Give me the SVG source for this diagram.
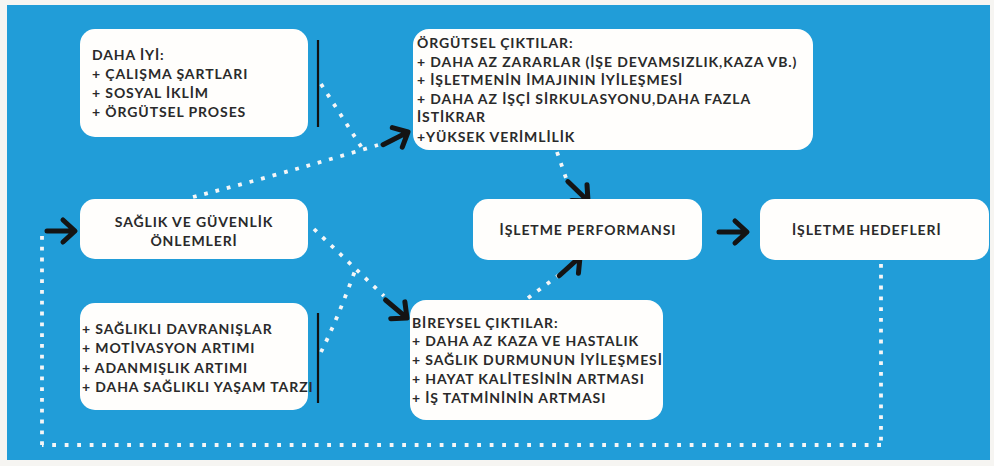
<svg xmlns="http://www.w3.org/2000/svg" xmlns:xlink="http://www.w3.org/1999/xlink" width="994" height="466" viewBox="0 0 994 466">
  <style>
    .box { fill: #fffefc; }
    .txt { font-family: Lato, "Open Sans", "DejaVu Sans", sans-serif; font-size: 14px; font-weight: 700; letter-spacing: 0.9px; fill: #2a2a2a; }
    .mid { text-anchor: middle; }
    .dots { fill: none; stroke: #f4f6f7; stroke-width: 3.8; stroke-linecap: butt; }
    .dh { stroke-dasharray: 3.8 8.7; }
    .dv { stroke-dasharray: 3.8 7; }
    .dd { stroke-dasharray: 3.8 8; }
    .bar { stroke: #111; stroke-width: 2.2; }
    .arw { fill: none; stroke: #141414; stroke-width: 5; stroke-linecap: round; stroke-linejoin: round; }
  </style>
  <defs>
    <!-- hand-drawn style arrow, tip at the origin, pointing along +x -->
    <path id="arrow" d="M-28,0 H-1 M-12,-11 L0,0 L-12,11"/>
  </defs>

  <!-- page and blue panel -->
  <rect x="0" y="0" width="994" height="466" fill="#f6f5f2"/>
  <rect x="7" y="5" width="983" height="455" fill="#219dd8"/>

  <!-- connectors -->
  <g id="connectors">
    <!-- feedback loop: goals back to measures -->
    <path class="dots dv" d="M881,264 V445"/>
    <path class="dots dh" d="M881,445 H42"/>
    <path class="dots dv" d="M42,445 V231"/>
    <!-- measures -> organisational outcomes -->
    <path class="dots dd" d="M193,197 Q282,174 378,145"/>
    <path class="dots dd" d="M321,84 L362,148"/>
    <!-- measures -> individual outcomes -->
    <path class="dots dd" d="M314,229 L384,296"/>
    <path class="dots dd" d="M321,352 Q338,318 356,268"/>
    <!-- outcomes -> performance -->
    <path class="dots dd" d="M557,152 L566,178"/>
    <path class="dots dd" d="M528,298 L559,275"/>

    <!-- vertical brackets -->
    <line class="bar" x1="318" y1="40" x2="318" y2="127"/>
    <line class="bar" x1="318" y1="313" x2="318" y2="403"/>

    <!-- arrows -->
    <use xlink:href="#arrow" class="arw" transform="translate(75,231)"/>
    <use xlink:href="#arrow" class="arw" transform="translate(408,132) rotate(-27)"/>
    <use xlink:href="#arrow" class="arw" transform="translate(407,318) rotate(40)"/>
    <use xlink:href="#arrow" class="arw" transform="translate(588,201) rotate(44)"/>
    <use xlink:href="#arrow" class="arw" transform="translate(580,257) rotate(-42)"/>
    <use xlink:href="#arrow" class="arw" transform="translate(747,232)"/>
  </g>

  <g id="daha-iyi">
    <rect class="box" x="80" y="29" width="228" height="108" rx="15"/>
    <text class="txt" x="92" y="60">DAHA İYİ:</text>
    <text class="txt" x="92" y="79">+ ÇALIŞMA ŞARTLARI</text>
    <text class="txt" x="92" y="98">+ SOSYAL İKLİM</text>
    <text class="txt" x="92" y="117">+ ÖRGÜTSEL PROSES</text>
  </g>

  <g id="saglik-guvenlik">
    <rect class="box" x="80" y="199" width="228" height="60" rx="15"/>
    <text class="txt mid" x="194" y="227">SAĞLIK VE GÜVENLİK</text>
    <text class="txt mid" x="194" y="246">ÖNLEMLERİ</text>
  </g>

  <g id="saglikli">
    <rect class="box" x="80" y="303" width="228" height="107" rx="15"/>
    <text class="txt" x="82" y="334">+ SAĞLIKLI DAVRANIŞLAR</text>
    <text class="txt" x="82" y="353">+ MOTİVASYON ARTIMI</text>
    <text class="txt" x="82" y="372.5">+ ADANMIŞLIK ARTIMI</text>
    <text class="txt" x="82" y="392">+ DAHA SAĞLIKLI YAŞAM TARZI</text>
  </g>

  <g id="orgutsel-ciktilar">
    <rect class="box" x="413" y="29" width="400" height="121" rx="16"/>
    <text class="txt" x="417" y="48">ÖRGÜTSEL ÇIKTILAR:</text>
    <text class="txt" x="417" y="67">+ DAHA AZ ZARARLAR (İŞE DEVAMSIZLIK,KAZA VB.)</text>
    <text class="txt" x="417" y="85">+ İŞLETMENİN İMAJININ İYİLEŞMESİ</text>
    <text class="txt" x="417" y="104">+ DAHA AZ İŞÇİ SİRKULASYONU,DAHA FAZLA</text>
    <text class="txt" x="417" y="122">İSTİKRAR</text>
    <text class="txt" x="417" y="142">+YÜKSEK VERİMLİLİK</text>
  </g>

  <g id="bireysel-ciktilar">
    <rect class="box" x="410" y="300" width="253" height="120" rx="16"/>
    <text class="txt" x="412" y="328">BİREYSEL ÇIKTILAR:</text>
    <text class="txt" x="412" y="346">+ DAHA AZ KAZA VE HASTALIK</text>
    <text class="txt" x="412" y="365">+ SAĞLIK DURMUNUN İYİLEŞMESİ</text>
    <text class="txt" x="412" y="384">+ HAYAT KALİTESİNİN ARTMASI</text>
    <text class="txt" x="412" y="403">+ İŞ TATMİNİNİN ARTMASI</text>
  </g>

  <g id="isletme-performansi">
    <rect class="box" x="473" y="199" width="229" height="61" rx="15"/>
    <text class="txt mid" x="588" y="235">İŞLETME PERFORMANSI</text>
  </g>

  <g id="isletme-hedefleri">
    <rect class="box" x="760" y="199" width="229" height="61" rx="15"/>
    <text class="txt" x="792" y="235">İŞLETME HEDEFLERİ</text>
  </g>
</svg>
